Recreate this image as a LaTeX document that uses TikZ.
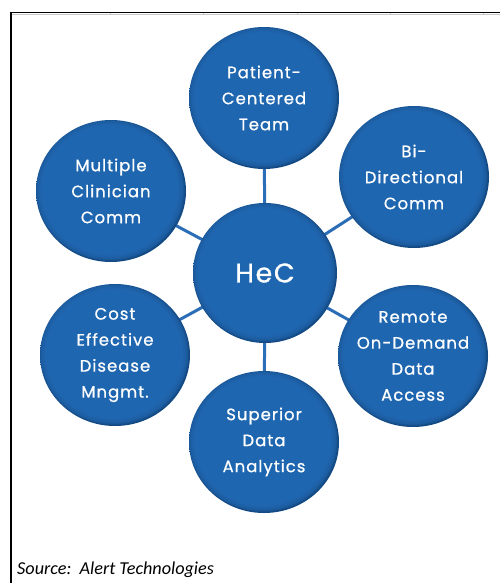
\documentclass[tikz,border=0pt]{standalone}
\usepackage{fontspec}
\setmainfont{Carlito}
\newfontfamily\bubfont[LetterSpace=6, FakeBold=0.7]{Poppins}
\usetikzlibrary{shapes.geometric}

\definecolor{hb}{HTML}{1F66B0}
\definecolor{hbrim}{HTML}{1C5CA0}
\definecolor{hbdark}{HTML}{134A84}
\definecolor{linkblue}{HTML}{2B6DB6}
\definecolor{rulegray}{HTML}{C8C8C8}

% flat bubble fill with a thin darker rim, lit from the upper left
\pgfdeclareradialshading{bubble}{\pgfpoint{-1bp}{1bp}}{%
  color(0bp)=(hb); color(22.6bp)=(hb); color(24.3bp)=(hbrim);
  color(25bp)=(hbdark); color(50bp)=(hbdark)}

\pgfdeclarelayer{bg}
\pgfsetlayers{bg,main}

\tikzset{
  bubble/.style={shape=ellipse, inner sep=0pt, minimum width=150pt,
    minimum height=142pt, shading=bubble},
  hub/.style={bubble, minimum width=144pt, minimum height=140pt},
  bubtext/.style={text=white, align=center,
    font=\bubfont\fontsize{16.5}{26}\selectfont},
  hubtext/.style={text=white, font=\bubfont\fontsize{27}{30}\selectfont},
  link/.style={draw=linkblue, line width=3pt},
  frame/.style={draw=black, line width=1.4pt},
  tick/.style={draw=rulegray, line width=0.6pt}
}

\begin{document}
\begin{tikzpicture}[x=1pt, y=-1pt]
\useasboundingbox (0,0) rectangle (500,583);

% sheet edge
\draw[draw=rulegray, line width=1pt] (11.5,14.2) -- (500,14.2);
\draw[frame] (11,12.7) -- (500,12.7);
\draw[frame] (11,12) -- (11,583);
\foreach \x in {110,203,297,390,483}
  \draw[tick] (\x,13.4) -- (\x,15.5);
\draw[tick] (12,14.6) -- (19,14.6);

% bubbles
\node[hub]    (hec)  at (265,273) {};
\node[bubble] (team) at (264,98)  {};
\node[bubble] (mult) at (111,191) {};
\node[bubble] (bidi) at (414,177) {};
\node[bubble] (cost) at (115,355) {};
\node[bubble] (remo) at (413,356) {};
\node[bubble] (anal) at (264,442) {};

% spokes
\begin{pgfonlayer}{bg}
  \foreach \n in {team,mult,bidi,cost,remo,anal}
    \draw[link] (hec.center) -- (\n.center);
\end{pgfonlayer}

% labels
\node[hubtext]  (thec)  at (hec.center)  {HeC};
\node[bubtext]  (tteam) at (team.center) {Patient-\\Centered\\Team};
\node[bubtext]  (tmult) at (mult.center) {Multiple\\Clinician\\Comm};
\node[bubtext]  (tbidi) at (bidi.center) {Bi-\\Directional\\Comm};
\node[bubtext]  (tcost) at (cost.center) {Cost\\Effective\\Disease\\Mngmt.};
\node[bubtext]  (tremo) at (remo.center) {Remote\\On-Demand\\Data\\Access};
\node[bubtext]  (tanal) at (anal.center) {Superior\\Data\\Analytics};

% source line
\node[anchor=base west, inner sep=0pt, font=\itshape\fontsize{18.2}{20}\selectfont]
  (src) at (17,574) {Source:\ \ Alert Technologies};
\end{tikzpicture}
\end{document}
